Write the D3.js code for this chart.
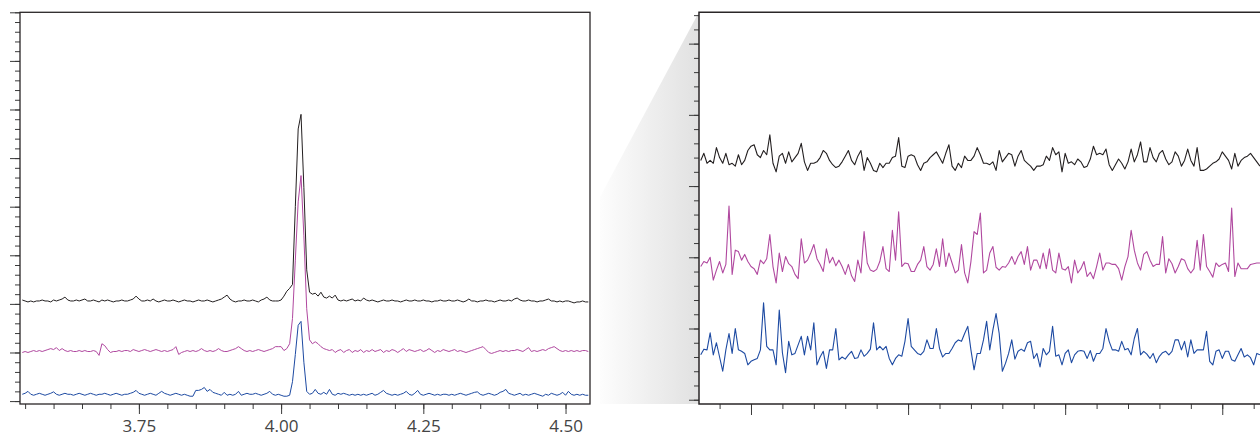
<!DOCTYPE html>
<html lang="en">
<head>
  <meta charset="utf-8">
  <title>Spectra with baseline zoom</title>
  <style>
    body { margin: 0; background: #fff; }
    svg { display: block; }
  </style>
</head>
<body>
  <script src="https://cdn.jsdelivr.net/npm/d3@7"></script>
  <script>
    var width = 1260;
    var height = 437;

    // left panel: full trace, one value every 0.005 starting at 3.545
    var fullStart = 3.545;
    var fullStep = 0.005;
    var fullTickValues = [3.75, 4.00, 4.25, 4.50];
    var fullTickLabels = ["3.75", "4.00", "4.25", "4.50"];

    var fullBlack = [
      10.4, 10.3, 10.2, 10.3, 10.2, 10.3, 10.3, 10.4, 10.3, 10.3,
      10.2, 10.4, 10.3, 10.4, 10.5, 10.7, 10.4, 10.3, 10.3, 10.4,
      10.3, 10.4, 10.5, 10.3, 10.3, 10.4, 10.3, 10.2, 10.4, 10.3,
      10.4, 10.3, 10.2, 10.3, 10.3, 10.4, 10.3, 10.3, 10.4, 10.5,
      10.8, 10.5, 10.3, 10.3, 10.4, 10.3, 10.5, 10.3, 10.2, 10.3,
      10.4, 10.3, 10.3, 10.4, 10.3, 10.2, 10.3, 10.4, 10.3, 10.3,
      10.2, 10.3, 10.4, 10.3, 10.3, 10.4, 10.3, 10.2, 10.3, 10.4,
      10.5, 10.7, 10.9, 10.5, 10.3, 10.2, 10.3, 10.3, 10.4, 10.3,
      10.3, 10.4, 10.3, 10.2, 10.4, 10.5, 10.7, 10.4, 10.3, 10.3,
      10.3, 10.4, 10.8, 11.3, 11.6, 12.0, 20.0, 28.0, 29.5, 22.0,
      13.5, 11.2, 11.0, 11.1, 10.8, 11.2, 10.7, 10.6, 10.8, 10.6,
      10.9, 10.4, 10.3, 10.4, 10.3, 10.4, 10.5, 10.3, 10.4, 10.3,
      10.6, 10.4, 10.3, 10.4, 10.3, 10.2, 10.3, 10.4, 10.3, 10.3,
      10.4, 10.3, 10.3, 10.2, 10.3, 10.4, 10.3, 10.3, 10.4, 10.3,
      10.3, 10.4, 10.3, 10.3, 10.2, 10.3, 10.3, 10.4, 10.3, 10.3,
      10.4, 10.3, 10.3, 10.4, 10.3, 10.2, 10.3, 10.5, 10.3, 10.3,
      10.2, 10.3, 10.3, 10.4, 10.3, 10.3, 10.2, 10.3, 10.4, 10.3,
      10.3, 10.4, 10.3, 10.5, 10.6, 10.4, 10.3, 10.3, 10.4, 10.3,
      10.3, 10.2, 10.3, 10.3, 10.4, 10.5, 10.3, 10.3, 10.2, 10.3,
      10.2, 10.3, 10.3, 10.2, 10.1, 10.2, 10.2, 10.3, 10.2, 10.2
    ];
    var fullMagenta = [
      5.0, 5.1, 5.0, 5.1, 5.2, 5.1, 5.2, 5.1, 5.2, 5.3,
      5.4, 5.3, 5.5, 5.2, 5.4, 5.2, 5.1, 5.2, 5.1, 5.1,
      5.2, 5.1, 5.2, 5.1, 5.1, 5.2, 5.1, 4.7, 5.9, 5.7,
      5.3, 5.0, 5.1, 5.1, 5.2, 5.1, 5.2, 5.2, 5.1, 5.3,
      5.2, 5.1, 5.2, 5.3, 5.2, 5.1, 5.2, 5.3, 5.2, 5.1,
      5.2, 5.1, 5.2, 5.3, 5.6, 4.8, 5.0, 5.1, 5.2, 5.1,
      5.2, 5.1, 5.2, 5.4, 5.2, 5.1, 5.2, 5.1, 5.2, 5.4,
      5.2, 5.1, 5.1, 5.2, 5.3, 5.4, 5.6, 5.4, 5.2, 5.1,
      5.2, 5.1, 5.2, 5.3, 5.2, 5.1, 5.2, 5.3, 5.4, 5.6,
      5.6, 5.6, 5.2, 5.4, 5.9, 8.5, 14.5, 20.5, 23.2, 17.0,
      9.5, 6.3, 5.9, 6.1, 5.9, 5.6, 5.4, 5.3, 5.2, 5.3,
      5.0, 5.2, 5.3, 5.0, 5.2, 5.3, 5.0, 5.2, 5.1, 5.3,
      5.0, 5.2, 5.1, 5.3, 5.1, 5.2, 5.3, 5.0, 5.2, 5.1,
      5.3, 5.2, 5.0, 5.2, 5.4, 5.1, 5.3, 5.2, 5.1, 5.2,
      5.3, 5.1, 5.2, 5.4, 5.2, 5.0, 5.2, 5.1, 5.3, 5.2,
      5.1, 5.2, 5.3, 5.1, 5.2, 5.1, 5.0, 5.1, 5.2, 5.3,
      5.4, 5.5, 5.6, 5.3, 5.0, 4.9, 5.0, 5.1, 5.2, 5.1,
      5.2, 5.1, 5.2, 5.2, 5.3, 5.2, 5.1, 5.3, 5.5, 5.1,
      5.2, 5.1, 5.2, 5.3, 5.2, 5.4, 5.5, 5.6, 5.4, 5.2,
      5.1, 5.2, 5.1, 5.2, 5.1, 5.2, 5.1, 5.2, 5.2, 5.1
    ];
    var fullBlue = [
      0.7, 0.8, 1.0, 0.7, 0.6, 0.7, 0.8, 0.7, 0.6, 0.7,
      0.8, 0.95, 0.7, 0.6, 0.7, 0.8, 0.7, 0.7, 0.6, 0.7,
      0.8, 0.7, 0.6, 0.7, 0.8, 0.7, 0.6, 0.7, 0.7, 0.8,
      0.7, 0.6, 0.7, 0.8, 0.7, 0.6, 0.7, 0.7, 0.8, 0.9,
      1.1, 0.8, 0.7, 0.6, 0.7, 0.8, 0.7, 0.6, 0.8, 1.0,
      0.8, 0.7, 0.6, 0.7, 0.8, 0.7, 0.6, 0.7, 0.6, 0.5,
      0.5, 1.1, 1.1, 1.2, 1.4, 1.0, 1.2, 0.9, 0.8, 0.7,
      0.6, 0.9, 0.6, 0.7, 0.6, 0.7, 1.0, 0.6, 0.7, 0.8,
      0.7, 0.7, 0.8, 0.7, 0.6, 0.7, 0.8, 1.0, 0.7, 0.6,
      0.7, 0.6, 0.5, 0.5, 0.6, 2.0, 4.8, 7.8, 8.2, 4.0,
      1.0, 0.7, 0.8, 1.2, 0.8, 0.7, 0.9, 0.7, 1.2, 0.7,
      0.6, 0.8, 0.7, 0.8, 0.7, 0.6, 0.7, 0.6, 0.7, 0.6,
      0.7, 0.6, 0.7, 0.8, 0.6, 0.7, 0.9, 1.1, 0.8, 0.7,
      0.6, 0.7, 0.6, 0.7, 0.8, 1.0, 0.7, 0.6, 0.8, 1.1,
      0.7, 0.6, 0.7, 0.8, 0.7, 0.6, 0.7, 0.6, 0.7, 0.7,
      0.6, 0.7, 0.6, 0.7, 0.8, 0.7, 0.6, 0.7, 0.8, 0.9,
      0.95, 0.7, 0.6, 0.7, 0.8, 0.7, 0.6, 0.7, 0.9, 1.0,
      1.2, 0.8, 0.7, 0.6, 0.7, 0.8, 0.6, 0.7, 0.6, 0.7,
      0.8, 0.7, 0.6, 0.5, 0.7, 0.6, 0.8, 0.7, 0.6, 0.7,
      0.9, 0.6, 1.0, 0.7, 0.6, 0.7, 0.6, 0.7, 0.6, 0.6
    ];

    // right panel: baseline noise, one value every 0.02 starting at 0.68
    var zoomStart = 0.68;
    var zoomStep = 0.02;
    var zoomMajorTicks = [1, 2, 3, 4];

    var zoomBlack = [
      16.8, 17.3, 16.6, 16.8, 16.6, 17.7, 17.0, 16.6, 17.3, 16.5,
      16.6, 16.4, 17.2, 16.5, 16.8, 17.5, 17.8, 17.9, 17.2, 17.0,
      17.5, 17.2, 18.6, 16.6, 16.0, 17.1, 17.3, 16.6, 17.4, 16.7,
      17.0, 17.3, 18.0, 16.7, 16.1, 16.6, 16.6, 16.7, 17.0, 17.5,
      17.3, 16.8, 16.5, 16.3, 16.4, 16.7, 17.1, 17.5, 16.8, 16.5,
      17.1, 17.5, 16.1, 17.0, 16.6, 16.1, 16.0, 16.6, 16.3, 16.6,
      16.6, 17.0, 17.1, 18.4, 16.4, 16.3, 17.1, 17.2, 17.1, 16.5,
      16.1, 16.6, 16.7, 17.0, 17.2, 17.4, 17.0, 16.6, 17.3, 17.9,
      16.4, 16.1, 16.6, 16.3, 17.1, 16.8, 16.8, 17.1, 17.7, 17.2,
      16.6, 16.6, 16.5, 16.7, 16.1, 17.5, 16.7, 17.0, 17.3, 17.2,
      16.4, 17.1, 17.5, 16.8, 16.6, 16.4, 16.1, 16.4, 16.4, 16.5,
      17.1, 16.8, 17.7, 17.2, 17.4, 16.0, 17.3, 16.6, 16.7, 16.5,
      16.9, 16.7, 16.3, 16.4, 16.9, 17.8, 17.2, 17.3, 17.2, 17.6,
      16.5, 16.1, 16.5, 16.9, 16.6, 16.2, 16.7, 17.6, 16.7, 17.2,
      18.1, 16.7, 16.7, 17.7, 17.0, 16.7, 17.3, 17.5, 16.9, 16.5,
      16.7, 17.4, 17.1, 16.4, 16.8, 17.6, 16.8, 16.4, 17.7, 16.1,
      16.1, 16.2, 16.4, 16.6, 16.7, 16.9, 17.4, 17.1, 16.8, 16.2,
      17.3, 16.4, 16.8, 17.0, 17.1, 17.3, 17.0, 16.7, 16.4
    ];
    var zoomMagenta = [
      9.35, 9.7, 9.6, 10.0, 8.4, 9.1, 9.7, 8.9, 9.5, 13.6,
      8.8, 10.5, 10.4, 9.8, 10.2, 9.7, 9.35, 9.2, 8.8, 9.8,
      9.55, 9.9, 11.6, 9.35, 8.2, 10.3, 9.0, 10.05, 9.55, 9.35,
      8.8, 8.5, 11.3, 9.6, 9.8, 10.3, 10.9, 9.9, 9.5, 9.0,
      10.6, 9.6, 10.0, 9.4, 9.8, 9.35, 8.8, 9.5, 8.7, 8.3,
      9.8, 8.9, 11.8, 9.6, 9.1, 9.0, 9.15, 9.7, 10.75, 9.2,
      9.0, 11.9, 9.8, 13.2, 9.35, 9.6, 9.55, 9.0, 9.0, 9.5,
      9.8, 10.75, 9.35, 9.1, 9.5, 10.6, 9.35, 11.3, 9.35, 10.3,
      9.6, 8.9, 9.1, 10.9, 8.9, 8.2, 9.7, 11.8, 11.6, 13.1,
      8.9, 9.1, 10.3, 10.75, 9.3, 9.1, 9.35, 9.3, 9.6, 10.05,
      9.5, 10.05, 10.4, 9.5, 10.75, 9.1, 9.8, 9.8, 9.2, 10.3,
      9.2, 10.6, 9.1, 8.9, 10.3, 9.2, 9.1, 9.35, 8.2, 9.8,
      8.9, 9.2, 9.7, 8.65, 8.95, 8.5, 9.35, 10.3, 9.1, 9.6,
      9.6, 9.5, 9.5, 9.2, 8.4, 9.35, 10.05, 11.9, 10.5, 9.6,
      9.1, 10.2, 10.4, 9.8, 9.35, 9.5, 9.5, 11.45, 8.9, 9.9,
      9.55, 8.9, 9.35, 9.9, 9.8, 9.2, 8.9, 9.2, 11.2, 9.1,
      11.6, 9.35, 9.0, 8.6, 9.6, 9.35, 9.5, 9.6, 9.0, 13.45,
      8.65, 9.6, 9.2, 9.2, 9.2, 9.5, 9.55, 9.6, 9.6
    ];
    var zoomBlue = [
      3.15, 3.55, 3.5, 4.7, 3.15, 4.0, 3.0, 2.0, 3.5, 4.65,
      3.25, 5.0, 3.5, 3.4, 3.25, 2.45, 2.7, 2.8, 2.9, 3.5,
      6.8, 3.75, 3.5, 3.5, 2.45, 6.3, 3.3, 1.9, 4.1, 3.15,
      3.25, 3.85, 4.45, 3.15, 4.45, 3.5, 5.4, 2.45, 3.0, 3.4,
      2.2, 3.5, 3.5, 5.0, 2.8, 3.0, 2.85, 3.15, 3.4, 2.9,
      2.95, 3.5, 3.05, 3.25, 3.55, 5.4, 3.5, 3.75, 3.5, 3.75,
      2.9, 2.45, 2.9, 3.15, 3.05, 4.1, 5.7, 3.75, 3.5, 3.25,
      3.15, 3.4, 4.2, 3.6, 3.6, 5.0, 3.6, 3.0, 3.25, 3.25,
      3.6, 4.0, 4.2, 4.1, 4.65, 5.15, 3.5, 2.1, 3.25, 3.25,
      4.2, 5.5, 3.5, 4.9, 6.05, 4.65, 2.0, 2.55, 3.25, 4.2,
      2.85, 3.4, 3.55, 3.4, 4.0, 4.1, 2.9, 3.25, 2.3, 3.6,
      3.15, 3.4, 5.15, 3.05, 3.15, 2.45, 3.25, 3.5, 2.6, 3.15,
      3.4, 3.45, 3.4, 2.9, 3.45, 2.7, 3.25, 3.25, 3.6, 5.0,
      4.1, 3.5, 3.5, 3.4, 4.1, 3.5, 3.6, 3.15, 4.3, 5.0,
      3.15, 3.4, 3.2, 2.9, 3.25, 2.6, 3.05, 3.3, 3.4, 3.15,
      3.4, 4.2, 4.2, 3.5, 4.1, 3.0, 4.2, 3.25, 3.5, 3.5,
      3.5, 4.8, 2.7, 2.45, 3.4, 3.5, 2.9, 3.4, 3.4, 2.8,
      2.7, 3.15, 3.6, 3.0, 3.15, 2.95, 2.45, 3.25, 3.15
    ];

    var colors = { black: "#231f20", magenta: "#b0489f", blue: "#1d4aa2" };
    var frameColor = "#2a2627";
    var tickColor = "#3a3a3a";

    var svg = d3.select("body").append("svg")
                .attr("width", width)
                .attr("height", height);

    var defs = svg.append("defs");

    // grey wedge linking the two panels
    var grad = defs.append("linearGradient")
                   .attr("id", "wedge")
                   .attr("x1", "0").attr("x2", "1")
                   .attr("y1", "0").attr("y2", "0");
    grad.append("stop").attr("offset", "0").attr("stop-color", "#fdfdfd");
    grad.append("stop").attr("offset", "1").attr("stop-color", "#e1e1e1");

    svg.append("path")
       .attr("d", "M600,197 L699,12 L699,404 L600,404 Z")
       .attr("fill", "url(#wedge)");

    // ---------- left panel ----------
    var xFull = d3.scaleLinear().domain([3.541, 4.543]).range([20, 590]);
    var yFull = d3.scaleLinear().domain([-0.3, 40]).range([404, 12.3]);

    defs.append("clipPath").attr("id", "clipFull")
        .append("rect")
        .attr("x", 20).attr("y", 12).attr("width", 570).attr("height", 392);

    var full = svg.append("g");

    // minor / major ticks on the left side
    full.append("g")
        .attr("transform", "translate(20,0)")
        .call(d3.axisLeft(yFull).tickValues(d3.range(0, 41)).tickSize(5).tickFormat(""));
    full.append("g")
        .attr("transform", "translate(20,0)")
        .call(d3.axisLeft(yFull).tickValues(d3.range(0, 41, 5)).tickSize(10).tickFormat(""));

    // bottom ticks
    full.append("g")
        .attr("transform", "translate(0,404)")
        .call(d3.axisBottom(xFull).tickValues(d3.range(71, 91).map(function(d){ return d / 20; }))
                .tickSize(5).tickFormat(""));
    full.append("g")
        .attr("class", "labels")
        .attr("transform", "translate(0,404)")
        .call(d3.axisBottom(xFull).tickValues(fullTickValues).tickSize(10).tickPadding(6)
                .tickFormat(function(d, i){ return fullTickLabels[i]; }));

    var lineFull = d3.line()
                     .x(function(d, i){ return xFull(fullStart + fullStep * i); })
                     .y(function(d){ return yFull(d); });

    [[fullBlack, colors.black], [fullMagenta, colors.magenta], [fullBlue, colors.blue]].forEach(function(s){
      full.append("path")
          .datum(s[0])
          .attr("clip-path", "url(#clipFull)")
          .attr("d", lineFull)
          .attr("fill", "none")
          .attr("stroke", s[1])
          .attr("stroke-width", 1)
          .attr("stroke-linejoin", "round");
    });

    full.append("rect")
        .attr("x", 20).attr("y", 12.3)
        .attr("width", 570).attr("height", 391.7)
        .attr("fill", "none")
        .attr("stroke", frameColor)
        .attr("stroke-width", 1.3);

    // ---------- right panel ----------
    var xZoom = d3.scaleLinear().domain([0.669, 4.253]).range([699, 1262]);
    var yZoom = d3.scaleLinear().domain([-0.3, 27.2]).range([404, 12.3]);

    defs.append("clipPath").attr("id", "clipZoom")
        .append("rect")
        .attr("x", 699).attr("y", 12).attr("width", 570).attr("height", 392);

    var zoom = svg.append("g");

    zoom.append("g")
        .attr("transform", "translate(699,0)")
        .call(d3.axisLeft(yZoom).tickValues(d3.range(0, 28)).tickSize(5).tickFormat(""));
    zoom.append("g")
        .attr("transform", "translate(699,0)")
        .call(d3.axisLeft(yZoom).tickValues(d3.range(0, 26, 5)).tickSize(10).tickFormat(""));

    zoom.append("g")
        .attr("transform", "translate(0,404)")
        .call(d3.axisBottom(xZoom).tickValues(d3.range(4, 22).map(function(d){ return d / 5; }))
                .tickSize(5).tickFormat(""));
    zoom.append("g")
        .attr("transform", "translate(0,404)")
        .call(d3.axisBottom(xZoom).tickValues(zoomMajorTicks).tickSize(11).tickFormat(""));

    var lineZoom = d3.line()
                     .x(function(d, i){ return xZoom(zoomStart + zoomStep * i); })
                     .y(function(d){ return yZoom(d); });

    [[zoomBlack, colors.black], [zoomMagenta, colors.magenta], [zoomBlue, colors.blue]].forEach(function(s){
      zoom.append("path")
          .datum(s[0])
          .attr("clip-path", "url(#clipZoom)")
          .attr("d", lineZoom)
          .attr("fill", "none")
          .attr("stroke", s[1])
          .attr("stroke-width", 1.1)
          .attr("stroke-linejoin", "round");
    });

    zoom.append("path")
        .attr("d", "M1262,12.3 L699,12.3 L699,404 L1262,404")
        .attr("fill", "none")
        .attr("stroke", frameColor)
        .attr("stroke-width", 1.5);

    // shared axis styling
    svg.selectAll(".domain").remove();
    svg.selectAll(".tick line")
       .attr("stroke", tickColor)
       .attr("stroke-width", 1);
    svg.selectAll(".labels .tick text")
       .attr("fill", "#444")
       .style("font-family", "'Open Sans', 'Noto Sans', sans-serif")
       .style("font-size", "17px");
  </script>
</body>
</html>
